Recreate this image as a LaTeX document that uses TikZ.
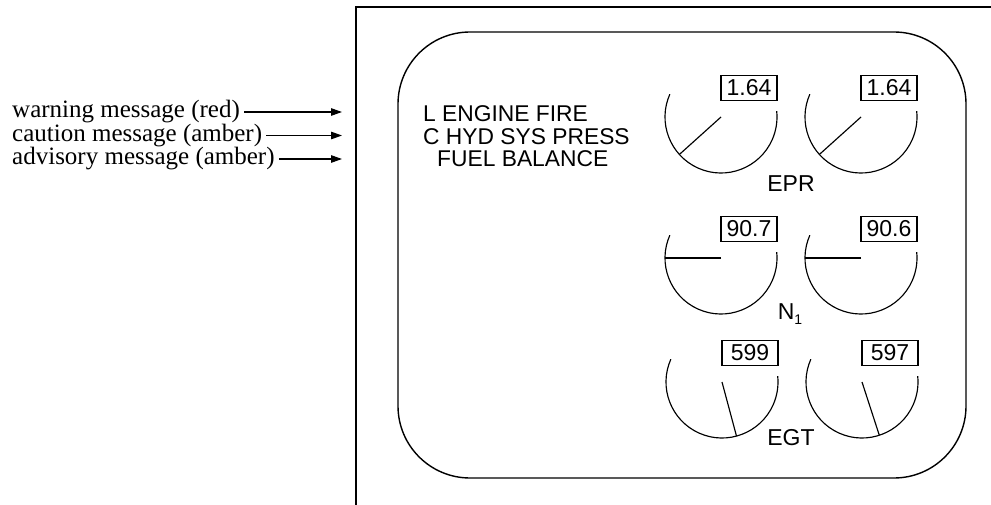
\documentclass[tikz,border=0pt]{standalone}
\usepackage{fontspec}
\setmainfont{Liberation Serif}
\newfontfamily\arialf{Liberation Sans}
\usetikzlibrary{arrows.meta}
\newcommand\mygauge[5]{%
  \coordinate (#1c) at (#2,#3);
  \draw[gaugeline] (#1c) ++(-156:56) arc[start angle=-156, end angle=-366, radius=56];
  \draw[gaugeline] (#1c) -- ++(-#4:56);
  \node[valbox] (#1v) at ({#2+28},{#3-29}) {#5};
}
\begin{document}
\begin{tikzpicture}[x=1pt,y=-1pt,
  lefttext/.style={anchor=base west, font=\fontsize{25}{25}\selectfont, inner sep=0pt},
  msgtext/.style={anchor=base west, font=\arialf\fontsize{22.8}{22.8}\selectfont, inner sep=0pt},
  valbox/.style={draw, line width=1.1pt, minimum width=56pt, minimum height=25pt, inner sep=0pt, font=\arialf\fontsize{23}{23}\selectfont},
  glabel/.style={font=\arialf\fontsize{23}{23}\selectfont, inner sep=0pt},
  gaugeline/.style={line width=1.15pt},
  ptr/.style={-{Triangle[length=11pt,width=7.5pt]}, line width=1.2pt, shorten <=-3pt},
  frame/.style={line width=1.4pt}]
\useasboundingbox (0,0) rectangle (991,505);
% outer frame
\draw[frame] (991,7) -- (356,7) -- (356,505);
% rounded display
\draw[frame, rounded corners=72pt] (398,32) rectangle (966,478);
% left labels
\node[lefttext] (warn) at (12,118) {warning message (red)};
\node[lefttext] (caut) at (12,141.5) {caution message (amber)};
\node[lefttext] (advi) at (12,165) {advisory message (amber)};
\coordinate (warntip) at (342,112);
\coordinate (cauttip) at (342,135.5);
\coordinate (advitip) at (342,159);
\draw[ptr] ([xshift=7pt]warn.east |- warntip) -- (warntip);
\draw[ptr] ([xshift=7pt]caut.east |- cauttip) -- (cauttip);
\draw[ptr] ([xshift=7pt]advi.east |- advitip) -- (advitip);
% messages
\node[msgtext] (m1) at (423,122) {L ENGINE FIRE};
\node[msgtext] (m2) at (423,145) {C HYD SYS PRESS};
\node[msgtext] (m3) at (437,167) {FUEL BALANCE};
% gauges
\mygauge{epra}{721}{117}{222}{1.64}
\mygauge{eprb}{861}{117}{222}{1.64}
\mygauge{nla}{721}{258}{180}{90.7}
\mygauge{nlb}{861}{258}{180}{90.6}
\mygauge{egta}{722}{382}{285}{599}
\mygauge{egtb}{862}{382}{288}{597}
\node[glabel] (epr) at (791,184) {EPR};
\node[glabel] (n1) at (790,314) {N\raisebox{-0.35ex}{\fontsize{14}{14}\selectfont 1}};
\node[glabel] (egt) at (791,438) {EGT};
\end{tikzpicture}
\end{document}
